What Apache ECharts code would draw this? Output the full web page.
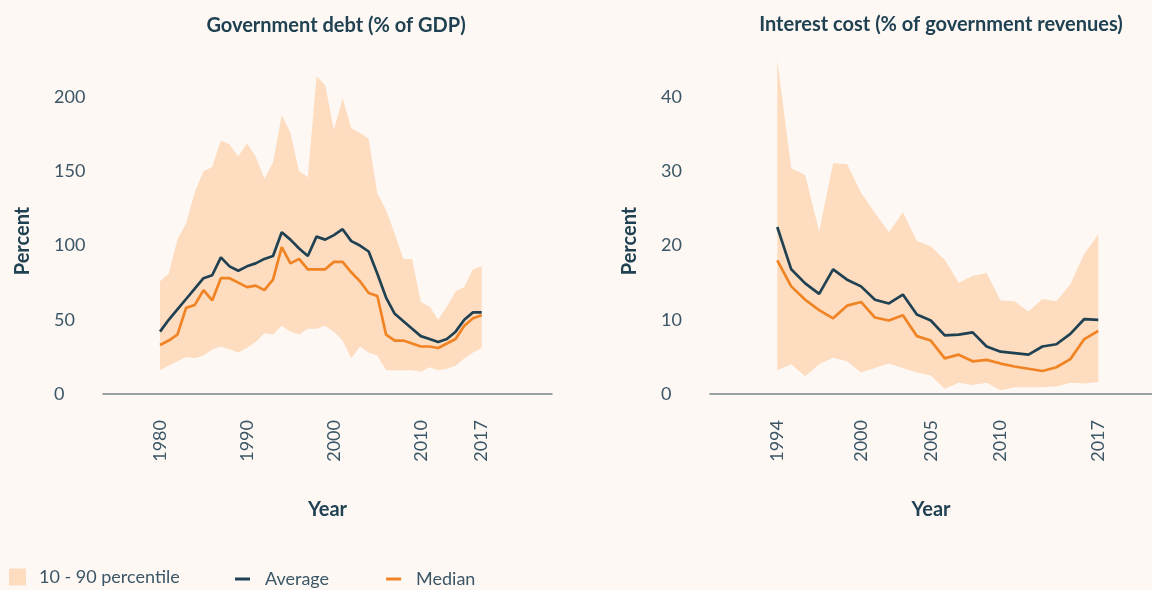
<!DOCTYPE html>
<html>
<head>
<meta charset="utf-8">
<script src="https://cdn.jsdelivr.net/npm/echarts@6/dist/echarts.min.js"></script>
<style>
  html, body { margin: 0; padding: 0; background: #fdf8f4; }
  #chart { width: 1152px; height: 590px; }
</style>
</head>
<body>
<div id="chart"></div>
<script>
// left panel: government debt, % of GDP
const debtYears = [1980, 1981, 1982, 1983, 1984, 1985, 1986, 1987, 1988, 1989,
  1990, 1991, 1992, 1993, 1994, 1995, 1996, 1997, 1998, 1999,
  2000, 2001, 2002, 2003, 2004, 2005, 2006, 2007, 2008, 2009,
  2010, 2011, 2012, 2013, 2014, 2015, 2016, 2017]
const debtAverage = [42, 50, 57, 64, 71, 78, 80, 92, 86, 83,
  86, 88, 91, 93, 109, 104, 98, 93, 106, 104,
  107, 111, 103, 100, 96, 81, 65, 54, 49, 44,
  39, 37, 35, 37, 42, 50, 55, 55]
const debtMedian = [33, 36, 40, 58, 60, 70, 63, 78, 78, 75,
  72, 73, 70, 77, 99, 88, 91, 84, 84, 84,
  89, 89, 82, 76, 68, 66, 40, 36, 36, 34,
  32, 32, 31, 34, 37, 46, 51, 53]
const debtP90 = [76, 81, 104, 115, 136, 150, 153, 171, 168, 160,
  169, 160, 145, 156, 188, 176, 150, 146, 214, 208,
  178, 199, 179, 176, 172, 135, 124, 108, 91, 91,
  62, 59, 50, 59, 69, 72, 84, 86]
const debtP10 = [16, 19, 22, 25, 24, 26, 30, 32, 30, 28,
  31, 35, 41, 40, 46, 42, 40, 44, 44, 46,
  42, 36, 24, 32, 28, 26, 16, 16, 16, 16,
  15, 18, 16, 17, 19, 24, 28, 31]
const debtYearTicks = [1980, 1990, 2000, 2010, 2017]

// right panel: interest cost, % of government revenues
const costYears = [1994, 1995, 1996, 1997, 1998, 1999, 2000, 2001, 2002, 2003,
  2004, 2005, 2006, 2007, 2008, 2009, 2010, 2011, 2012, 2013,
  2014, 2015, 2016, 2017]
const costAverage = [22.5, 16.8, 14.9, 13.5, 16.8, 15.4, 14.5, 12.7, 12.2, 13.4,
  10.7, 9.9, 7.9, 8.0, 8.3, 6.4, 5.7, 5.5, 5.3, 6.4,
  6.7, 8.1, 10.1, 10.0]
const costMedian = [18.0, 14.5, 12.7, 11.3, 10.2, 11.9, 12.4, 10.3, 9.9, 10.6,
  7.8, 7.2, 4.8, 5.3, 4.4, 4.6, 4.1, 3.7, 3.4, 3.1,
  3.6, 4.7, 7.4, 8.5]
const costP90 = [45.0, 30.4, 29.5, 21.9, 31.1, 31.0, 27.1, 24.4, 21.8, 24.5,
  20.6, 19.9, 18.1, 15.0, 15.9, 16.3, 12.6, 12.5, 11.1, 12.8,
  12.5, 14.8, 18.9, 21.5]
const costP10 = [3.2, 4.0, 2.4, 4.0, 4.9, 4.4, 2.9, 3.5, 4.1, 3.5,
  2.9, 2.5, 0.7, 1.5, 1.2, 1.5, 0.5, 0.9, 0.9, 0.9,
  1.0, 1.5, 1.4, 1.6]
const costYearTicks = [1994, 2000, 2005, 2010, 2017]

const BAND = '#fddcbf'
const NAVY = '#1f4152'
const ORANGE = '#f08424'
const TEXT = '#3b5666'
const FONT = 'Lato'

const pairs = (xs, ys) => xs.map((x, i) => [x, ys[i]])

const xAxisFor = (gridIndex, min, max, ticks) => ({
  type: 'value',
  gridIndex,
  min,
  max,
  name: 'Year',
  nameLocation: 'middle',
  nameGap: 106,
  nameTextStyle: { color: NAVY, fontFamily: FONT, fontWeight: 'bold', fontSize: 20 },
  axisLine: { show: true, lineStyle: { color: '#74838d', width: 1.5 } },
  axisTick: { show: false },
  splitLine: { show: false },
  axisLabel: {
    customValues: ticks,
    rotate: 90,
    margin: 26,
    color: TEXT,
    fontFamily: FONT,
    fontSize: 18,
    formatter: v => String(v)
  }
})

const yAxisFor = (gridIndex, max, interval) => ({
  type: 'value',
  gridIndex,
  min: 0,
  max,
  interval,
  name: 'Percent',
  nameLocation: 'middle',
  nameGap: 70,
  nameTextStyle: {
    color: NAVY, fontFamily: FONT, fontWeight: 'bold', fontSize: 20,
    padding: [0, 28, 0, 0]
  },
  axisLine: { show: false },
  axisTick: { show: false },
  splitLine: { show: false },
  axisLabel: {
    showMaxLabel: false,
    align: 'left',
    margin: 49,
    color: TEXT,
    fontFamily: FONT,
    fontSize: 18
  }
})

// percentile band: one polygon, upper edge left→right then lower edge back
const bandSeries = (idx, xs, lo, hi) => ({
  name: '10 - 90 percentile',
  type: 'custom',
  xAxisIndex: idx,
  yAxisIndex: idx,
  data: xs.map((x, i) => [x, lo[i], hi[i]]),
  encode: { x: 0, y: [1, 2] },
  itemStyle: { color: BAND },
  silent: true,
  renderItem: (params, api) => {
    if (params.dataIndex !== 0) return
    const top = xs.map((x, i) => api.coord([x, hi[i]]))
    const bottom = xs.map((x, i) => api.coord([x, lo[i]])).reverse()
    return {
      type: 'polygon',
      shape: { points: top.concat(bottom) },
      style: { fill: BAND }
    }
  }
})

const lineSeries = (idx, name, xs, ys, color) => ({
  name,
  type: 'line',
  xAxisIndex: idx,
  yAxisIndex: idx,
  data: pairs(xs, ys),
  symbol: 'none',
  itemStyle: { color },
  lineStyle: { color, width: 2.7 }
})

const chart = echarts.init(document.getElementById('chart'))

const option = {
  backgroundColor: '#fdf8f4',
  animation: false,
  title: [
    {
      text: 'Government debt (% of GDP)',
      left: 331,
      top: 11,
      textAlign: 'center',
      textStyle: { color: NAVY, fontFamily: FONT, fontWeight: 'bold', fontSize: 20 }
    },
    {
      text: 'Interest cost (% of government revenues)',
      left: 936,
      top: 10,
      textAlign: 'center',
      textStyle: { color: NAVY, fontFamily: FONT, fontWeight: 'bold', fontSize: 20 }
    }
  ],
  legend: [
    {
      data: [{ name: '10 - 90 percentile', icon: 'rect' }],
      left: 4,
      top: 563,
      selectedMode: false,
      itemWidth: 17,
      itemHeight: 17,
      textStyle: { color: TEXT, fontFamily: FONT, fontSize: 18, padding: [0, 0, 0, 8] }
    },
    {
      data: [{ name: 'Average', icon: 'rect' }, { name: 'Median', icon: 'rect' }],
      left: 230,
      top: 565,
      selectedMode: false,
      itemWidth: 15,
      itemHeight: 3,
      itemGap: 57,
      textStyle: { color: TEXT, fontFamily: FONT, fontSize: 18, padding: [0, 0, 0, 10] }
    }
  ],
  grid: [
    { left: 103, width: 449, top: 60, bottom: 196 },
    { left: 710, width: 442, top: 60, bottom: 196 }
  ],
  xAxis: [
    xAxisFor(0, 1973.44, 2025.09, debtYearTicks),
    xAxisFor(1, 1989.18, 2020.85, costYearTicks)
  ],
  yAxis: [
    yAxisFor(0, 225, 50),
    yAxisFor(1, 45, 10)
  ],
  series: [
    bandSeries(0, debtYears, debtP10, debtP90),
    lineSeries(0, 'Average', debtYears, debtAverage, NAVY),
    lineSeries(0, 'Median', debtYears, debtMedian, ORANGE),
    bandSeries(1, costYears, costP10, costP90),
    lineSeries(1, 'Average', costYears, costAverage, NAVY),
    lineSeries(1, 'Median', costYears, costMedian, ORANGE)
  ]
}

chart.setOption(option)
</script>
</body>
</html>
